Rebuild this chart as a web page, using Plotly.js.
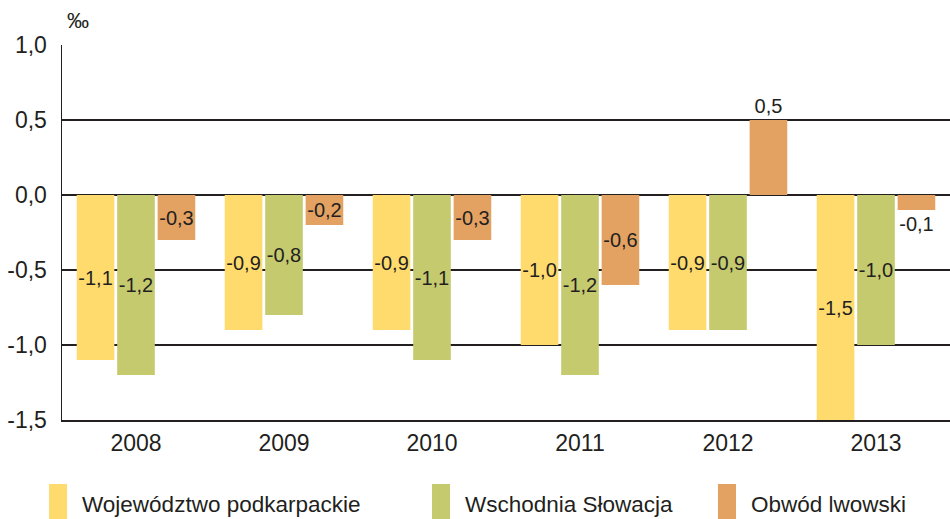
<!DOCTYPE html>
<html>
<head>
<meta charset="utf-8">
<script src="https://cdn.plot.ly/plotly-3.0.1.min.js"></script>
<style>html,body{margin:0;padding:0;background:#fff;}#chart{width:950px;height:519px;}</style>
</head>
<body>
<div id="chart"></div>
<script>
const years = ['2008', '2009', '2010', '2011', '2012', '2013'];
const seriesNames = ['Województwo podkarpackie', 'Wschodnia Słowacja', 'Obwód lwowski'];
const podkarpackie = [-1.1, -0.9, -0.9, -1.0, -0.9, -1.5];
const slowacja = [-1.2, -0.8, -1.1, -1.2, -0.9, -1.0];
const lwowski = [-0.3, -0.2, -0.3, -0.6, 0.5, -0.1];
const yTickVals = [-1.5, -1.0, -0.5, 0.0, 0.5, 1.0];
const unitLabel = '‰';

const colors = ['#FFDB6E', '#C5CA6F', '#E3A262'];
const fontFamily = '"Liberation Sans", Arial, sans-serif';
const textColor = '#231F20';

function fmt(v) { return v.toFixed(1).replace('.', ','); }

const allSeries = [podkarpackie, slowacja, lwowski];
const positions = [
  podkarpackie.map(() => 'inside'),
  slowacja.map(() => 'inside'),
  lwowski.map(v => (Math.abs(v) < 0.15 || v > 0) ? 'outside' : 'inside')
];

const traces = allSeries.map((vals, i) => ({
  type: 'bar',
  name: seriesNames[i],
  x: years,
  y: vals,
  text: vals.map(fmt),
  textposition: positions[i],
  insidetextanchor: 'middle',
  constraintext: 'none',
  textangle: 0,
  cliponaxis: false,
  textfont: {family: fontFamily, size: 20, color: textColor},
  insidetextfont: {family: fontFamily, size: 20, color: textColor},
  outsidetextfont: {family: fontFamily, size: 20, color: textColor},
  marker: {color: colors[i], line: {width: 0}},
  hoverinfo: 'x+y'
}));

// legend swatches drawn as shapes + annotations
const legendX = [-0.0146, 0.4167, 0.7387];
const shapes = seriesNames.map((n, i) => ({
  type: 'rect', xref: 'paper', yref: 'paper',
  x0: legendX[i], x1: legendX[i] + 0.0203,
  y0: -0.264, y1: -0.1707,
  fillcolor: colors[i], line: {width: 0}
}));
const annotations = seriesNames.map((n, i) => ({
  xref: 'paper', yref: 'paper',
  x: legendX[i] + 0.0345, y: -0.226,
  xanchor: 'left', yanchor: 'middle',
  text: n, showarrow: false,
  font: {family: fontFamily, size: 22.5, color: textColor}
}));
annotations.push({
  xref: 'paper', yref: 'paper', x: 0.018, y: 1.065,
  xanchor: 'center', yanchor: 'middle', text: unitLabel, showarrow: false,
  font: {family: fontFamily, size: 22, color: textColor}
});

const layout = {
  width: 950, height: 519,
  margin: {l: 62, r: 0, t: 45, b: 99},
  paper_bgcolor: '#ffffff', plot_bgcolor: '#ffffff',
  font: {family: fontFamily, color: textColor, size: 23},
  separators: ',.',
  barmode: 'group',
  bargap: 0.18,
  bargroupgap: 0.07,
  showlegend: false,
  xaxis: {
    type: 'category',
    showline: true, linecolor: '#231F20', linewidth: 1.5,
    ticks: '', showgrid: false, zeroline: false,
    tickfont: {family: fontFamily, size: 23, color: textColor},
    ticklabelstandoff: 2
  },
  yaxis: {
    range: [-1.5, 1.0],
    tickvals: yTickVals,
    ticktext: yTickVals.map(fmt),
    showline: true, linecolor: '#231F20', linewidth: 1.5,
    showgrid: true, gridcolor: '#231F20', gridwidth: 1.5,
    zeroline: true, zerolinecolor: '#231F20', zerolinewidth: 1.5,
    ticks: '',
    ticklabelstandoff: 9,
    tickfont: {family: fontFamily, size: 23, color: textColor}
  },
  shapes: shapes,
  annotations: annotations
};

Plotly.newPlot('chart', traces, layout, {displayModeBar: false, staticPlot: true});
</script>
</body>
</html>
